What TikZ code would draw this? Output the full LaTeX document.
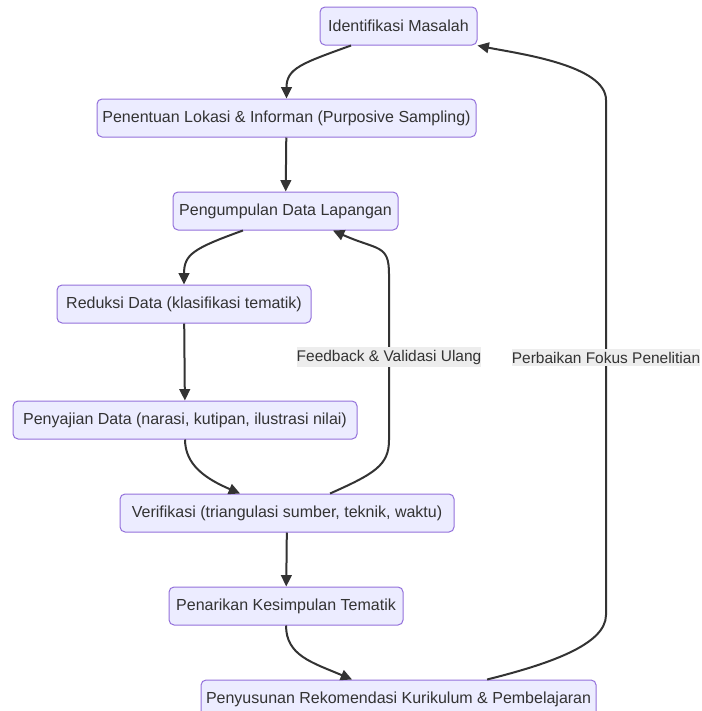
\documentclass[tikz,border=0pt]{standalone}
\usepackage{fontspec}
\setmainfont{Liberation Sans}
\usetikzlibrary{arrows.meta, positioning}
\usepackage{xcolor}
\definecolor{boxfill}{HTML}{ECECFF}
\definecolor{boxline}{HTML}{9370DB}
\definecolor{ink}{HTML}{333333}
\definecolor{lblfill}{HTML}{EDEDED}

\begin{document}
\begin{tikzpicture}[x=0.75pt, y=0.75pt, node distance=40.5pt,
box/.style={draw=boxline,
fill=boxfill,
rounded corners=3.75pt,
line width=0.75pt,
minimum height=28.5pt,
inner xsep=0pt,
text=ink,
font=\fontsize{12}{14}\selectfont},
arrow/.style={-{Triangle[length=8.5pt, width=8pt]}, line width=1.5pt, draw=ink},
lbl/.style={fill=lblfill, text=ink, inner xsep=0pt, inner ysep=2pt, font=\fontsize{11.6}{14}\selectfont}
]
\useasboundingbox (0,0) rectangle (701,-711);

\node[box, minimum width=117.75pt] (idn) at (398.5,-26) {Identifikasi Masalah};
\node[box, minimum width=284.25pt, below=39.75pt of idn, xshift=-84pt] (lok) {Penentuan Lokasi \& Informan (Purposive Sampling)};
\node[box, minimum width=168.75pt, below=of lok, xshift=-0.75pt] (kumpul) {Pengumpulan Data Lapangan};
\node[box, minimum width=190.5pt, below=of kumpul, xshift=-76.1pt] (reduksi) {Reduksi Data (klasifikasi tematik)};
\node[box, minimum width=258pt, below=57.75pt of reduksi, xshift=0.75pt] (saji) {Penyajian Data (narasi, kutipan, ilustrasi nilai)};
\node[box, minimum width=250.5pt, below=of saji, xshift=76.5pt] (verif) {Verifikasi (triangulasi sumber, teknik, waktu)};
\node[box, minimum width=175.5pt, below=of verif, xshift=-0.75pt] (tarik) {Penarikan Kesimpulan Tematik};
\node[box, minimum width=296.25pt, below=of tarik, xshift=84.4pt] (susun) {Penyusunan Rekomendasi Kurikulum \& Pembelajaran};

% alur utama
\draw[arrow] ([xshift=-35.6pt]idn.south) .. controls +(-50,-18) and +(0,30) .. (lok.north);
\draw[arrow] (lok) -- (kumpul);
\draw[arrow] ([xshift=-31.9pt]kumpul.south) .. controls +(-50,-18) and +(0,30) .. (reduksi.north);
\draw[arrow] (reduksi) -- (saji);
\draw[arrow] (saji.south) .. controls +(0,-25) and +(-35,15) .. ([xshift=-35.25pt]verif.north);
\draw[arrow] (verif) -- (tarik);
\draw[arrow] (tarik.south) .. controls +(0,-30) and +(-40,17) .. ([xshift=-34.9pt]susun.north);

% umpan balik
\draw[arrow] ([xshift=32.25pt]verif.north) .. controls +(45,20) and +(0,-25) .. (389,-440)
  -- node[lbl] {Feedback \& Validasi Ulang} (389,-274)
  .. controls +(0,30) and +(45,-20) .. ([xshift=35.6pt]kumpul.south);
\draw[arrow] ([xshift=66.4pt]susun.north) .. controls +(60,15) and +(0,-30) .. (606,-615)
  -- node[lbl] {Perbaikan Fokus Penelitian} (606,-100)
  .. controls +(0,35) and +(40,-8) .. (idn.south east);

\end{tikzpicture}
\end{document}
